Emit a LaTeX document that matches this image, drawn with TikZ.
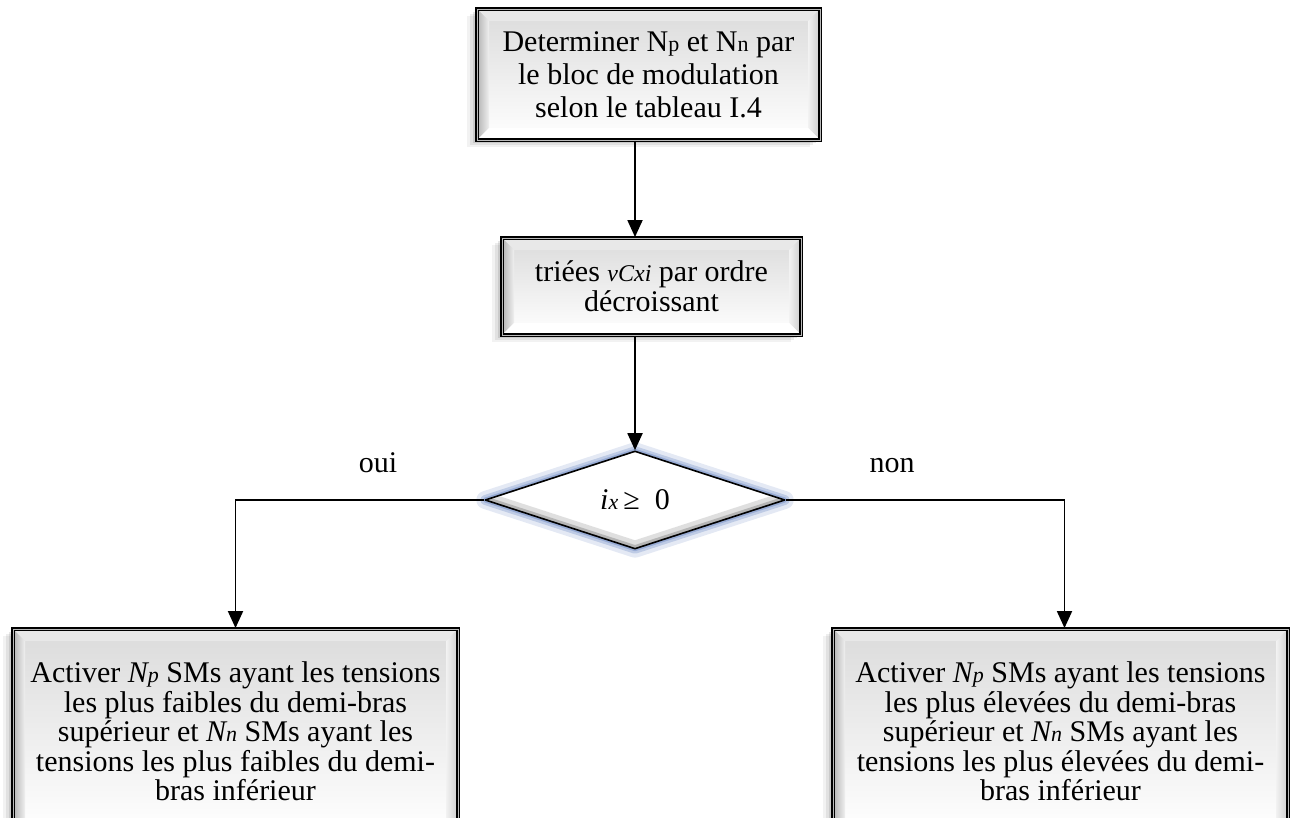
\documentclass[tikz,border=0pt]{standalone}
\usepackage{fontspec}
\setmainfont{Liberation Serif}
\usetikzlibrary{shapes.geometric,arrows.meta,calc}
\definecolor{glowblue}{RGB}{120,146,200}
\newcommand{\sbs}[1]{{\fontsize{22}{22}\selectfont #1}}
\newcommand{\sbm}[1]{{\fontsize{24}{24}\selectfont #1}}
\begin{document}
\begin{tikzpicture}[x=1pt,y=-1pt,
  bevel/.style={path picture={
    \path (path picture bounding box.north west) coordinate (pNW)
          (path picture bounding box.north east) coordinate (pNE)
          (path picture bounding box.south west) coordinate (pSW)
          (path picture bounding box.south east) coordinate (pSE);
    \shade[top color=gray!28, bottom color=white] (pNW) rectangle (pSE);
    \fill[gray!18] (pNW) -- (pNE) -- ([shift={(-12pt,-12pt)}]pNE) -- ([shift={(12pt,-12pt)}]pNW) -- cycle;
    \shade[left color=gray!60, right color=gray!12] (pNW) -- ([shift={(12pt,-12pt)}]pNW) -- ([shift={(12pt,12pt)}]pSW) -- (pSW) -- cycle;
    \shade[left color=gray!10, right color=gray!40] (pNE) -- ([shift={(-12pt,-12pt)}]pNE) -- ([shift={(-12pt,12pt)}]pSE) -- (pSE) -- cycle;
    \fill[white] (pSW) -- (pSE) -- ([shift={(-12pt,12pt)}]pSE) -- ([shift={(12pt,12pt)}]pSW) -- cycle;
  }},
  bevelbox/.style={rectangle, inner sep=0pt, align=center, bevel,
    draw=black, double=gray!55, double distance=0.8pt, line width=1.9pt,
    preaction={draw=none, fill=black, opacity=0.05, transform canvas={xshift=-10pt, yshift=-7pt}},
    preaction={draw=none, fill=black, opacity=0.07, transform canvas={xshift=-7pt, yshift=-5pt}},
    preaction={draw=none, fill=black, opacity=0.10, transform canvas={xshift=-4pt, yshift=-3pt}}},
  diamondbox/.style={diamond, inner sep=0pt, draw=black, line width=1.6pt, line join=round,
    font=\fontsize{30}{32}\selectfont,
    preaction={draw=glowblue, opacity=0.20, line width=18pt, line join=round},
    preaction={draw=glowblue, opacity=0.35, line width=10pt, line join=round},
    preaction={draw=glowblue, opacity=0.55, line width=5pt, line join=round},
    fill=white,
    path picture={
      \draw[gray!70, line width=16pt, opacity=0.35] (path picture bounding box.west) -- (path picture bounding box.south) -- (path picture bounding box.east);
      \draw[gray!85, line width=7pt, opacity=0.55] (path picture bounding box.west) -- (path picture bounding box.south) -- (path picture bounding box.east);
    }},
  arr/.style={line width=1.9pt, -{Triangle[length=17pt, width=15pt]}},
  lbl/.style={font=\fontsize{30}{32}\selectfont, inner sep=0pt, anchor=base}
]
\path[use as bounding box] (0,0) rectangle (1292,818);
\clip (0,0) rectangle (1292,818);

\node[bevelbox, minimum width=343pt, minimum height=131pt, font=\fontsize{30}{33}\selectfont] (top) at (648.5,74.5)
  {Determiner N\sbs{p} et N\sbs{n} par\\le bloc de modulation\\selon le tableau I.4};

\node[bevelbox, minimum width=299pt, minimum height=97pt, font=\fontsize{30}{30}\selectfont] (mid) at (651.5,286.5)
  {triées \textit{\sbm{vCxi}} par ordre\\décroissant};

\node[diamondbox, minimum width=300pt, minimum height=98pt] (dia) at (635,500)
  {\textit{i\sbs{x}}\,≥\ \ 0};

\node[bevelbox, minimum width=445pt, minimum height=205pt, font=\fontsize{30}{29.5}\selectfont] (bl) at (235.5,731.5)
  {Activer \textit{N\sbs{p}} SMs ayant les tensions\\les plus faibles du demi-bras\\supérieur et \textit{N\sbs{n}} SMs ayant les\\tensions les plus faibles du demi-\\bras inférieur};

\node[bevelbox, minimum width=455pt, minimum height=205pt, font=\fontsize{30}{29.5}\selectfont] (br) at (1060.5,731.5)
  {Activer \textit{N\sbs{p}} SMs ayant les tensions\\les plus élevées du demi-bras\\supérieur et \textit{N\sbs{n}} SMs ayant les\\tensions les plus élevées du demi-\\bras inférieur};

\node[lbl] (oui) at (378,472) {oui};
\node[lbl] (non) at (892,472) {non};

\draw[arr] (top.south -| dia.north) -- (mid.north -| dia.north);
\draw[arr] (mid.south -| dia.north) -- (dia.north);
\draw[arr] (dia.west) -| (bl.north);
\draw[arr] (dia.east) -| ([xshift=4pt]br.north);
\end{tikzpicture}
\end{document}
